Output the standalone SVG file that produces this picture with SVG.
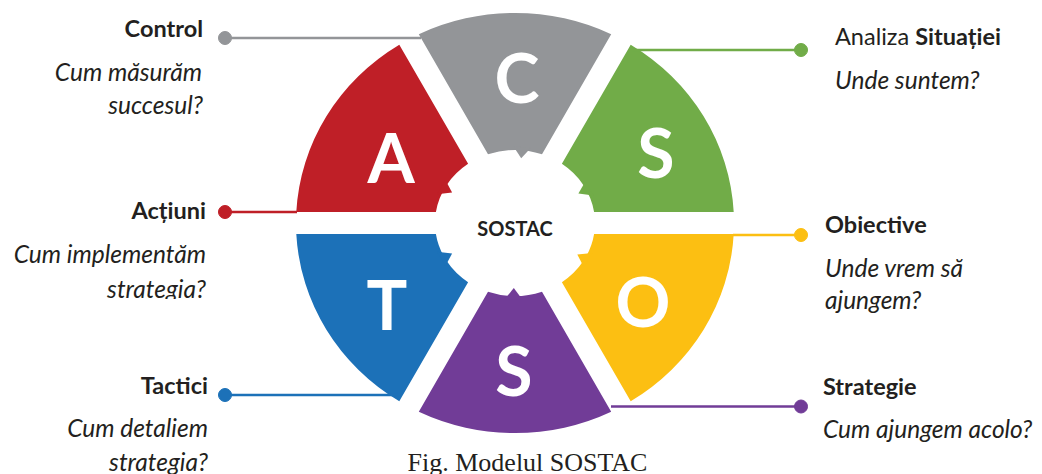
<svg xmlns="http://www.w3.org/2000/svg" width="1042" height="474" viewBox="0 0 1042 474">
<style>
.lbl{font-family:Lato,"Open Sans",sans-serif;font-size:23.5px;fill:#231f20}
.h{font-weight:bold}
.q{font-style:italic;font-size:24.5px}
.end{text-anchor:end}
.big{font-family:Lato,"Open Sans",sans-serif;font-weight:bold;font-size:68px;fill:#ffffff;text-anchor:middle}
.hub{font-family:Lato,"Open Sans",sans-serif;font-weight:bold;font-size:20px;fill:#231f20;text-anchor:middle}
.cap{font-family:"Liberation Serif","Times New Roman",serif;font-size:26px;fill:#231f20;text-anchor:middle}
.con line{stroke-width:2.5}
.gray{fill:#939598;stroke:#939598}
.green{fill:#71ac48;stroke:#71ac48}
.yellow{fill:#fcbf12;stroke:#fcbf12}
.purple{fill:#713c97;stroke:#713c97}
.blue{fill:#1c71b8;stroke:#1c71b8}
.red{fill:#bf1f27;stroke:#bf1f27}
.seg{stroke:none}
</style>
<defs>
<clipPath id="clipMid"><rect x="0" y="0" width="300" height="299"/></clipPath>
</defs>
<rect width="1042" height="474" fill="#ffffff"/>

<g id="control">
<path class="seg gray" d="M418.8,34.3 A219,210 0 0 1 611.2,34.3 L542,154.3 A80,73 0 0 0 488,154.3 Z"/>
<polygon class="seg gray" points="513.5,146.4 531,147.8 521.2,158.3"/>
<text class="big" x="517" y="103">C</text>
<text class="lbl h end" x="203" y="37">Control</text>
<text class="lbl q end" x="202" y="81">Cum măsurăm</text>
<text class="lbl q end" x="203" y="114">succesul?</text>
</g>

<g id="situatie">
<path class="seg green" d="M630.7,44.7 A219,210 0 0 1 733.7,212 L594.1,212 A80,73 0 0 0 561.9,163.8 Z"/>
<polygon class="seg green" points="585.5,181.3 593.4,195.5 578.4,193.5"/>
<text class="big" x="656" y="178">S</text>
<text class="lbl" x="835" y="45">Analiza <tspan class="h">Situației</tspan></text>
<text class="lbl q" x="835" y="89">Unde suntem?</text>
</g>

<g id="obiective">
<path class="seg yellow" d="M733.7,234 A219,210 0 0 1 630.7,401.3 L561.9,282.2 A80,73 0 0 0 594.1,234 Z"/>
<polygon class="seg yellow" points="592.3,253 583.8,267 577.3,254.5"/>
<text class="big" x="643" y="327">O</text>
<text class="lbl h" x="825" y="233">Obiective</text>
<text class="lbl q" x="825" y="277">Unde vrem să</text>
<text class="lbl q" x="825" y="309">ajungem?</text>
</g>

<g id="strategie">
<path class="seg purple" d="M611.2,411.7 A219,210 0 0 1 418.8,411.7 L488,291.7 A80,73 0 0 0 542,291.7 Z"/>
<polygon class="seg purple" points="522.3,299.4 504.8,299.1 513.8,288"/>
<text class="big" x="514" y="396">S</text>
<text class="lbl h" x="823" y="395">Strategie</text>
<text class="lbl q" x="823" y="438">Cum ajungem acolo?</text>
</g>

<g id="tactici">
<path class="seg blue" d="M399.3,401.3 A219,210 0 0 1 296.3,234 L435.9,234 A80,73 0 0 0 468.1,282.2 Z"/>
<polygon class="seg blue" points="445.4,265.9 437.1,251.7 452.1,253.5"/>
<text class="big" x="387" y="330">T</text>
<text class="lbl h end" x="208" y="394">Tactici</text>
<text class="lbl q end" x="208" y="437">Cum detaliem</text>
<text class="lbl q end" x="208" y="471">strategia?</text>
</g>

<g id="actiuni">
<path class="seg red" d="M296.3,212 A219,210 0 0 1 399.3,44.7 L468.1,163.8 A80,73 0 0 0 435.9,212 Z"/>
<polygon class="seg red" points="437.1,194.3 445.4,180.1 452.1,192.5"/>
<text class="big" x="391" y="183">A</text>
<text class="lbl h end" x="206" y="219">Acțiuni</text>
<text class="lbl q end" x="206" y="263">Cum implementăm</text>
<text class="lbl q end" x="206" y="298" clip-path="url(#clipMid)">strategia?</text>
</g>

<g id="hub">
<text class="hub" x="515" y="236">SOSTAC</text>
</g>

<g id="connectors" class="con">
<line class="gray" x1="225" y1="38" x2="421" y2="38"/><circle class="gray" cx="225" cy="38" r="6.5"/>
<line class="green" x1="632" y1="50" x2="801" y2="50"/><circle class="green" cx="801" cy="50" r="6.5"/>
<line class="yellow" x1="733" y1="235" x2="801" y2="235"/><circle class="yellow" cx="801" cy="235" r="6.5"/>
<line class="purple" x1="611" y1="406.5" x2="801" y2="406.5"/><circle class="purple" cx="801" cy="406.5" r="6.5"/>
<line class="blue" x1="225" y1="395" x2="398" y2="395"/><circle class="blue" cx="225" cy="395" r="6.5"/>
<line class="red" x1="225" y1="212" x2="297" y2="212"/><circle class="red" cx="225" cy="212" r="6.5"/>
</g>

<text class="cap" x="527.5" y="471">Fig. Modelul SOSTAC</text>
</svg>
